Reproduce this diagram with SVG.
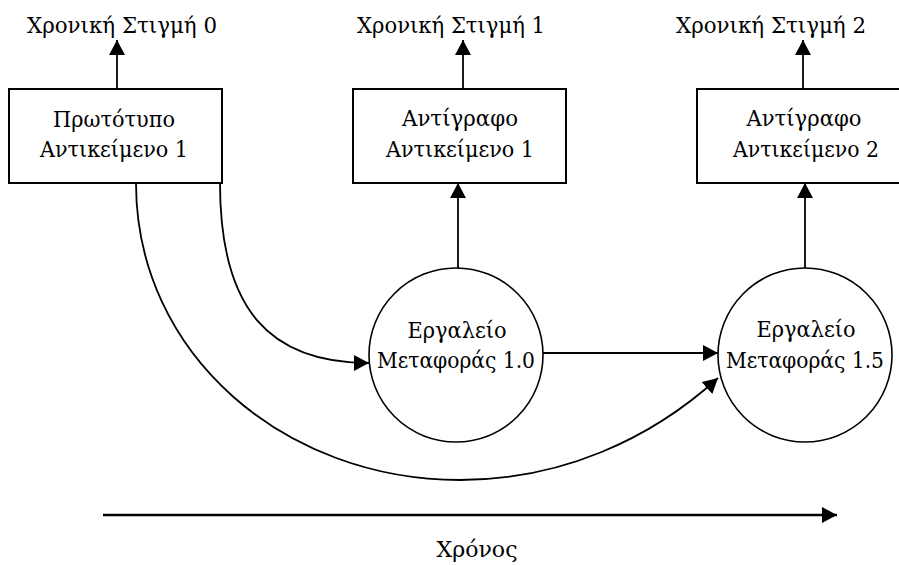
<svg xmlns="http://www.w3.org/2000/svg" width="899" height="565" viewBox="0 0 899 565">
  <style>
    .box { fill: #fff; stroke: #000; stroke-width: 2; }
    .tool { fill: #fff; stroke: #000; stroke-width: 1.6; }
    .lbl { font-family: "DejaVu Serif", "Liberation Serif", serif; font-size: 23px; fill: #000; text-anchor: middle; }
    .sm { font-size: 22px; }
    .edge { fill: none; stroke: #000; stroke-width: 1.8; }
    .axis { fill: none; stroke: #000; stroke-width: 2.6; }
  </style>
  <defs>
    <marker id="head" markerUnits="userSpaceOnUse" markerWidth="16" markerHeight="16" refX="15" refY="8" orient="auto">
      <path d="M0,0 L15,8 L0,16 z" fill="#000"/>
    </marker>
  </defs>
  <rect width="899" height="565" fill="#fff"/>

  <g id="connectors">
    <!-- object -> time instant -->
    <path class="edge" d="M117,89 V40" marker-end="url(#head)"/>
    <path class="edge" d="M463,89 V40" marker-end="url(#head)"/>
    <path class="edge" d="M803,89 V40" marker-end="url(#head)"/>
    <!-- tool -> copied object -->
    <path class="edge" d="M458,268 V183" marker-end="url(#head)"/>
    <path class="edge" d="M805,268 V183" marker-end="url(#head)"/>
    <!-- original -> tool 1.0 -->
    <path class="edge" d="M220,183 C220,310 270,363 369,363" marker-end="url(#head)"/>
    <!-- tool 1.0 -> tool 1.5 -->
    <path class="edge" d="M543,353 H718" marker-end="url(#head)"/>
    <!-- original -> tool 1.5 -->
    <path class="edge" d="M136,183 C136,355 285,480 460,480 C560,480 650,440 718,378" marker-end="url(#head)"/>
    <!-- time axis -->
    <path class="axis" d="M103,515 H837" marker-end="url(#head)"/>
  </g>

  <g id="t0"><text class="lbl" x="122" y="33" textLength="190" lengthAdjust="spacingAndGlyphs">Χρονική Στιγμή 0</text></g>
  <g id="t1"><text class="lbl" x="451" y="33" textLength="188" lengthAdjust="spacingAndGlyphs">Χρονική Στιγμή 1</text></g>
  <g id="t2"><text class="lbl" x="771" y="33" textLength="190" lengthAdjust="spacingAndGlyphs">Χρονική Στιγμή 2</text></g>

  <g id="original">
    <rect class="box" x="9" y="89" width="213" height="94"/>
    <text class="lbl" x="114" y="127" textLength="122" lengthAdjust="spacingAndGlyphs">Πρωτότυπο</text>
    <text class="lbl" x="114" y="157" textLength="148" lengthAdjust="spacingAndGlyphs">Αντικείμενο 1</text>
  </g>
  <g id="copy1">
    <rect class="box" x="353" y="89" width="213" height="94"/>
    <text class="lbl" x="460" y="126" textLength="116" lengthAdjust="spacingAndGlyphs">Αντίγραφο</text>
    <text class="lbl" x="460" y="157" textLength="148" lengthAdjust="spacingAndGlyphs">Αντικείμενο 1</text>
  </g>
  <g id="copy2">
    <rect class="box" x="697" y="89" width="213" height="94"/>
    <text class="lbl" x="804" y="126" textLength="115" lengthAdjust="spacingAndGlyphs">Αντίγραφο</text>
    <text class="lbl" x="806" y="157" textLength="146" lengthAdjust="spacingAndGlyphs">Αντικείμενο 2</text>
  </g>

  <g id="tool10">
    <circle class="tool" cx="456" cy="355" r="87"/>
    <text class="lbl sm" x="457" y="338" textLength="99" lengthAdjust="spacingAndGlyphs">Εργαλείο</text>
    <text class="lbl sm" x="456" y="368" textLength="158" lengthAdjust="spacingAndGlyphs">Μεταφοράς 1.0</text>
  </g>
  <g id="tool15">
    <circle class="tool" cx="805" cy="355" r="87"/>
    <text class="lbl sm" x="806" y="337" textLength="99" lengthAdjust="spacingAndGlyphs">Εργαλείο</text>
    <text class="lbl sm" x="805" y="368" textLength="158" lengthAdjust="spacingAndGlyphs">Μεταφοράς 1.5</text>
  </g>

  <g id="time"><text class="lbl" x="477" y="557" textLength="81" lengthAdjust="spacingAndGlyphs">Χρόνος</text></g>
</svg>
